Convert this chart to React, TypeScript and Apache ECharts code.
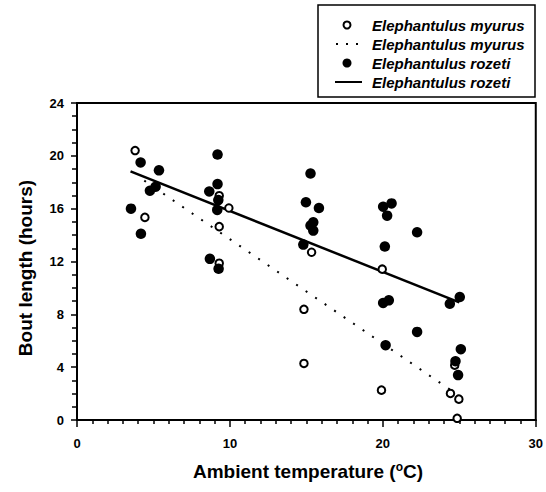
import React, { useEffect, useRef } from "react";
import * as echarts from "echarts";

// Elephantulus myurus bouts: [ambient temperature °C, bout length h]
const myurusPoints: number[][] = [
  [3.8, 20.4], [4.44, 15.34], [9.3, 16.98], [9.93, 16.05], [9.3, 14.64],
  [9.3, 11.87], [15.34, 12.7], [14.84, 8.38], [14.84, 4.28], [19.96, 11.42],
  [19.91, 2.26], [24.7, 4.15], [24.42, 2.01], [24.97, 1.58], [24.86, 0.13],
];

// Elephantulus rozeti bouts
const rozetiPoints: number[][] = [
  [4.16, 19.5], [5.36, 18.9], [5.14, 17.66], [4.77, 17.36], [3.53, 16.0],
  [4.18, 14.1], [9.19, 20.1], [9.19, 17.86], [8.65, 17.3], [9.24, 16.65],
  [9.17, 15.9], [8.69, 12.2], [9.26, 11.45], [15.27, 18.66], [14.97, 16.48],
  [15.82, 16.05], [15.45, 14.97], [15.27, 14.72], [15.45, 14.34], [14.8, 13.28],
  [20.57, 16.4], [20.02, 16.15], [20.28, 15.47], [22.24, 14.21], [20.13, 13.13],
  [25.03, 9.31], [24.38, 8.8], [20.39, 9.06], [20.02, 8.86], [22.24, 6.67],
  [20.18, 5.66], [25.1, 5.36], [24.75, 4.45], [24.92, 3.4],
];

// Regression line end points
const myurusFit: number[][] = [[4.4, 18.12], [24.9, 1.9]];
const rozetiFit: number[][] = [[3.5, 18.83], [25.0, 8.9]];

const xTicks = [0, 10, 20, 30];
const yTicks = [0, 4, 8, 12, 16, 20, 24];

const legendLabels = [
  "Elephantulus myurus",
  "Elephantulus myurus",
  "Elephantulus rozeti",
  "Elephantulus rozeti",
];

const FONT = "'Liberation Sans', Arial, Helvetica, sans-serif";

export default function App() {
  const ref = useRef<HTMLDivElement>(null);

  useEffect(() => {
    if (!ref.current) return;
    const chart = echarts.init(ref.current, null, { renderer: "svg" });

    const legendX = 347;
    const legendTextX = 372;
    const rowY = [25, 44, 63, 82];

    chart.setOption({
      animation: false,
      backgroundColor: "#ffffff",
      grid: {
        left: 77,
        top: 103,
        right: 10,
        bottom: 72,
        show: true,
        borderColor: "#000",
        borderWidth: 2,
        backgroundColor: "transparent",
      },
      xAxis: {
        type: "value",
        min: xTicks[0],
        max: xTicks[xTicks.length - 1],
        interval: 10,
        splitLine: { show: false },
        axisLine: { show: true, lineStyle: { color: "#000", width: 2 } },
        axisTick: { show: true, length: 7, lineStyle: { color: "#000", width: 1.5 } },
        minorTick: { show: true, splitNumber: 10, length: 4, lineStyle: { color: "#000", width: 1.5 } },
        minorSplitLine: { show: false },
        axisLabel: {
          margin: 17,
          color: "#000",
          fontSize: 13,
          fontWeight: "bold",
          fontFamily: FONT,
        },
      },
      yAxis: {
        type: "value",
        min: yTicks[0],
        max: yTicks[yTicks.length - 1],
        interval: 4,
        splitLine: { show: false },
        axisLine: { show: true, lineStyle: { color: "#000", width: 2 } },
        axisTick: { show: true, length: 6, lineStyle: { color: "#000", width: 1.5 } },
        minorTick: { show: true, splitNumber: 4, length: 5, lineStyle: { color: "#000", width: 1.5 } },
        minorSplitLine: { show: false },
        axisLabel: {
          margin: 13,
          color: "#000",
          fontSize: 13,
          fontWeight: "bold",
          fontFamily: FONT,
        },
      },
      series: [
        {
          name: "myurus fit",
          type: "line",
          data: myurusFit,
          symbol: "none",
          silent: true,
          z: 1,
          lineStyle: { color: "#000", width: 2, type: [2, 9.5], cap: "butt" },
        },
        {
          name: "rozeti fit",
          type: "line",
          data: rozetiFit,
          symbol: "none",
          silent: true,
          z: 1,
          lineStyle: { color: "#000", width: 2.5 },
        },
        {
          name: "Elephantulus myurus",
          type: "scatter",
          data: myurusPoints,
          symbol: "circle",
          symbolSize: 7.5,
          z: 2,
          itemStyle: { color: "#fff", borderColor: "#000", borderWidth: 2, opacity: 1 },
        },
        {
          name: "Elephantulus rozeti",
          type: "scatter",
          data: rozetiPoints,
          symbol: "circle",
          symbolSize: 10.5,
          z: 3,
          itemStyle: { color: "#000", opacity: 1 },
        },
      ],
      graphic: [
        // Y axis title
        {
          type: "text",
          x: 25,
          y: 268,
          rotation: Math.PI / 2,
          style: {
            text: "Bout length (hours)",
            fill: "#000",
            font: `bold 19px ${FONT}`,
            textAlign: "center",
            textVerticalAlign: "middle",
          },
        },
        // X axis title with superscript degree
        {
          type: "text",
          x: 308,
          y: 471,
          style: {
            text: "Ambient temperature ({sup|o}C)",
            fill: "#000",
            font: `bold 19px ${FONT}`,
            textAlign: "center",
            textVerticalAlign: "middle",
            rich: {
              sup: {
                fontSize: 12,
                fontWeight: "bold",
                fontFamily: FONT,
                padding: [0, 0, 9, 0],
              },
            },
          },
        },
        // Legend box
        {
          type: "rect",
          shape: { x: 318, y: 5, width: 217, height: 92 },
          style: { fill: "#fff", stroke: "#000", lineWidth: 1.5 },
        },
        {
          type: "circle",
          shape: { cx: legendX, cy: rowY[0], r: 3.5 },
          style: { fill: "#fff", stroke: "#000", lineWidth: 2 },
        },
        {
          type: "line",
          shape: { x1: 336, y1: rowY[1], x2: 359, y2: rowY[1] },
          style: { stroke: "#000", lineWidth: 2, lineDash: [2, 8] },
        },
        {
          type: "circle",
          shape: { cx: legendX, cy: rowY[2], r: 4.5 },
          style: { fill: "#000" },
        },
        {
          type: "line",
          shape: { x1: 335, y1: rowY[3], x2: 362, y2: rowY[3] },
          style: { stroke: "#000", lineWidth: 2 },
        },
        ...legendLabels.map((label, i) => ({
          type: "text",
          x: legendTextX,
          y: rowY[i],
          style: {
            text: label,
            fill: "#000",
            font: `italic bold 15px ${FONT}`,
            textAlign: "left",
            textVerticalAlign: "middle",
          },
        })),
      ],
    });

    return () => {
      chart.dispose();
    };
  }, []);

  return (
    <div
      ref={ref}
      style={{ position: "fixed", left: 0, top: 0, width: 546, height: 492 }}
    />
  );
}
